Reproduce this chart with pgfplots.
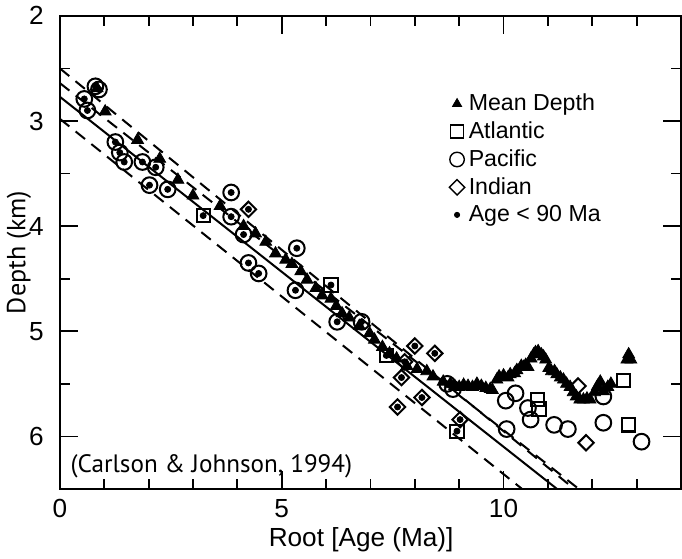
\documentclass[border=0pt]{standalone}
\usepackage{fontspec}
\setmainfont{Liberation Sans}
\newfontfamily\myriad{PT Sans}
\usepackage{pgfplots}
\pgfplotsset{compat=1.18}
\begin{document}
\begin{tikzpicture}
\begin{axis}[
  scale only axis, width=308.5pt, height=235pt,
  xmin=0, xmax=14, ymin=2, ymax=6.5, y dir=reverse,
  xtick={0,5,10}, minor xtick={1,2,3,4,6,7,8,9,11,12,13},
  ytick={2,3,4,5,6}, minor ytick={2.5,3.5,4.5,5.5},
  tick align=inside, major tick length=9pt, minor tick length=5pt,
  tick style={line width=0.9pt, black},
  axis line style={line width=1pt},
  /pgf/number format/assume math mode=true,
  ticklabel style={font=\fontsize{13}{13}\selectfont},
  yticklabel style={xshift=-4.5pt},
  xticklabel style={yshift=-1.5pt},
  xlabel={Root [Age (Ma)]}, ylabel={\myriad Depth (km)},
  xlabel style={font=\fontsize{13}{13}\selectfont, at={(axis description cs:0.485,0)}, anchor=center, yshift=-25pt},
  ylabel style={font=\fontsize{13}{13}\selectfont, at={(axis description cs:-0.066,0.5)}, anchor=center},
  legend style={draw=none, fill=none, at={(axis cs:8.77,2.70)}, anchor=north west,
    font=\fontsize{11.5}{14.7}\selectfont, row sep=0pt, inner sep=0pt},
  legend cell align=left,
  clip=true,
]
\addlegendimage{only marks, mark=triangle*, mark size=2.6pt, black}
\addlegendentry{Mean Depth}
\addlegendimage{only marks, mark=square, mark size=3.2pt, line width=0.7pt, black}
\addlegendentry{Atlantic}
\addlegendimage{only marks, mark=o, mark size=3.6pt, line width=0.7pt, black}
\addlegendentry{Pacific}
\addlegendimage{only marks, mark=square, mark size=2.7pt, line width=0.7pt, black, mark options={rotate=45}}
\addlegendentry{Indian}
\addlegendimage{only marks, mark=*, mark size=1.3pt, black}
\addlegendentry{Age < 90 Ma}

% reference lines
\addplot[black, line width=1pt, dash pattern=on 6pt off 4pt, forget plot] coordinates {(0,2.50) (14,7.33)};
\addplot[black, line width=1pt, dash pattern=on 6pt off 4pt, forget plot] coordinates {(0,2.64) (14,7.26)};
\addplot[black, line width=1pt, forget plot] coordinates {(0,2.77) (14,7.43)};
\addplot[black, line width=1pt, dash pattern=on 6pt off 4pt, forget plot] coordinates {(0,2.98) (14,7.71)};

% Mean depth
\addplot[only marks, mark=triangle*, mark size=3.4pt, black, forget plot] coordinates {
(0.84,2.69) (1.02,2.91) (1.75,3.18) (2.25,3.36) (2.66,3.56) (3.00,3.71) (3.61,3.81)
(4.14,4.00) (4.41,4.07) (4.64,4.15) (4.86,4.26) (5.09,4.32) (5.23,4.36) (5.43,4.43)
(5.57,4.51) (5.77,4.59) (5.91,4.66) (6.11,4.69) (6.23,4.76) (6.36,4.83) (6.52,4.87)
(6.75,4.95) (6.98,5.02) (7.09,5.08) (7.27,5.15) (7.43,5.21) (7.59,5.26) (7.82,5.33)
(8.05,5.36) (8.27,5.38) (8.41,5.43) (8.64,5.48) (8.80,5.50) (8.90,5.52) (9.00,5.53)
(9.10,5.51) (9.20,5.52) (9.30,5.53) (9.40,5.50) (9.50,5.52) (9.60,5.54) (9.70,5.55)
(9.75,5.56) (9.85,5.46) (9.90,5.43) (10.00,5.42) (10.10,5.44) (10.15,5.41) (10.25,5.40)
(10.30,5.37) (10.40,5.33) (10.45,5.34) (10.50,5.32) (10.55,5.34) (10.62,5.26) (10.68,5.22)
(10.72,5.20) (10.78,5.19) (10.85,5.22) (10.90,5.24) (10.95,5.27) (11.02,5.35) (11.08,5.38)
(11.15,5.38) (11.20,5.41) (11.28,5.44) (11.35,5.46) (11.42,5.50) (11.50,5.53) (11.57,5.58)
(11.64,5.62) (11.72,5.65) (11.80,5.65) (11.88,5.64) (11.95,5.65) (12.05,5.58) (12.12,5.52)
(12.18,5.48) (12.25,5.57) (12.35,5.53) (12.42,5.50) (12.78,5.27) (12.82,5.22) (12.87,5.27)
};

% Pacific
\addplot[only marks, mark=o, mark size=3.9pt, line width=1pt, black, forget plot] coordinates {
(0.55,2.79) (0.62,2.90) (0.80,2.67) (0.88,2.70)
(1.25,3.20) (1.35,3.30) (1.45,3.39) (1.86,3.39) (2.16,3.44) (2.02,3.61) (2.43,3.65)
(3.86,3.68) (3.86,3.91) (4.14,4.08) (4.25,4.35) (4.48,4.45) (5.34,4.21) (5.31,4.61)
(6.25,4.91) (6.80,4.91) (8.73,5.50) (8.86,5.55)
(10.05,5.66) (10.27,5.59) (10.55,5.73) (10.61,5.84) (11.14,5.89) (11.45,5.93)
(12.25,5.62) (12.25,5.87) (13.11,6.05) (10.07,5.93)
};
% Atlantic
\addplot[only marks, mark=square, mark size=3.3pt, line width=1pt, black, forget plot] coordinates {
(3.23,3.90) (6.11,4.56) (7.36,5.23) (8.95,5.95)
(10.77,5.65) (10.80,5.74) (12.70,5.47) (12.82,5.89)
};
% Indian
\addplot[only marks, mark=square, mark size=2.7pt, line width=1pt, black, mark options={rotate=45}, forget plot] coordinates {
(4.25,3.84) (8.00,5.14) (8.45,5.21) (7.77,5.29) (7.70,5.44) (8.16,5.63) (7.61,5.72) (9.02,5.84)
(11.68,5.52) (11.86,6.06)
};
% Age < 90 Ma dots
\addplot[only marks, mark=*, mark size=1.5pt, black, forget plot] coordinates {
(0.55,2.79) (0.62,2.90) (0.80,2.67) (0.88,2.70)
(1.25,3.20) (1.35,3.30) (1.45,3.39) (1.86,3.39) (2.16,3.44) (2.02,3.61) (2.43,3.65)
(3.86,3.68) (3.86,3.91) (4.14,4.08) (4.25,4.35) (4.48,4.45) (5.34,4.21) (5.31,4.61)
(6.25,4.91) (6.80,4.91) (8.73,5.50)
(3.23,3.90) (6.11,4.56) (7.36,5.23) (8.95,5.95)
(4.25,3.84) (8.00,5.14) (8.45,5.21) (7.77,5.29) (7.70,5.44) (8.16,5.63) (7.61,5.72) (9.02,5.84)
};

\node[anchor=west, font=\myriad\fontsize{12.5}{12.5}\selectfont] at (axis cs:0.08,6.28) {(Carlson \& Johnson, 1994)};
\end{axis}
\end{tikzpicture}
\end{document}
